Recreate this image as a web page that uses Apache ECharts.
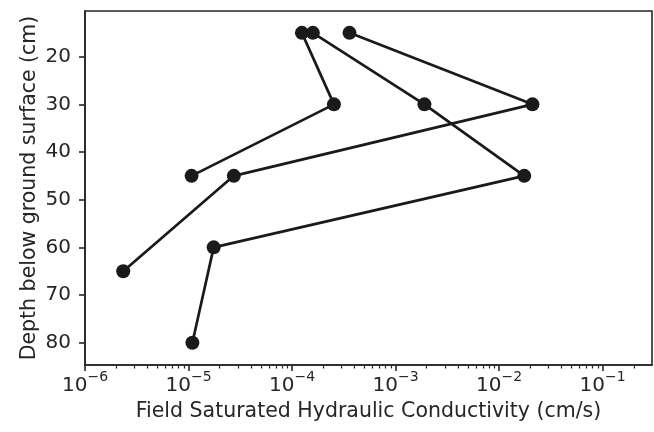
<!DOCTYPE html>
<html>
<head>
<meta charset="utf-8">
<script src="https://cdn.jsdelivr.net/npm/echarts@6/dist/echarts.min.js"></script>
<style>
html,body{margin:0;padding:0;background:#fff;}
#chart{width:654px;height:432px;}
</style>
</head>
<body>
<div id="chart"></div>
<script>
// Data (x: cm/s, y: depth cm)
const seriesA_K = [3.59e-4, 2.10e-2, 2.74e-5, 2.34e-6];
const seriesA_depth = [15, 30, 45, 65];
const seriesB_K = [1.245e-4, 2.54e-4, 1.07e-5];
const seriesB_depth = [15, 30, 45];
const seriesC_K = [1.59e-4, 1.90e-3, 1.75e-2, 1.75e-5, 1.09e-5];
const seriesC_depth = [15, 30, 45, 60, 80];

const xMajorTicks = [1e-6, 1e-5, 1e-4, 1e-3, 1e-2, 1e-1];
const xTickExponents = ['−6', '−5', '−4', '−3', '−2', '−1'];
const yTicks = [20, 30, 40, 50, 60, 70, 80];
const xMinorMultipliers = [2, 3, 4, 5, 6, 7, 8, 9];

const xMin = 1e-6, xMax = 0.3;
const yMin = 10.42, yMax = 84.68;

const xMinorTicks = [];
xMajorTicks.forEach(function (d) {
  xMinorMultipliers.forEach(function (m) {
    const v = m * d;
    if (v < xMax) xMinorTicks.push(v);
  });
});

function pairs(xs, ys) { return xs.map(function (x, i) { return [x, ys[i]]; }); }

const ink = '#262626';
const lineColor = '#1a1a1a';
const font = 'DejaVu Sans';

function mkSeries(xs, ys) {
  return {
    type: 'line',
    data: pairs(xs, ys),
    symbol: 'circle',
    symbolSize: 14,
    showSymbol: true,
    lineStyle: { color: lineColor, width: 2.7 },
    itemStyle: { color: lineColor, borderWidth: 0 },
    emphasis: { disabled: true },
    animation: false
  };
}

const chart = echarts.init(document.getElementById('chart'), null, { renderer: 'canvas' });
chart.setOption({
  animation: false,
  backgroundColor: '#fff',
  grid: { left: 85, right: 2, top: 11, bottom: 67, show: true, borderColor: ink, borderWidth: 1.6, backgroundColor: 'transparent' },
  xAxis: [{
    type: 'log', logBase: 10, min: xMin, max: xMax,
    name: 'Field Saturated Hydraulic Conductivity (cm/s)',
    nameLocation: 'middle', nameGap: 36, nameMoveOverlap: false,
    nameTextStyle: { fontFamily: font, fontSize: 20.5, color: ink },
    axisLine: { show: true, lineStyle: { color: ink, width: 1.6 } },
    axisTick: { show: true, customValues: xMajorTicks, length: 6, lineStyle: { color: ink, width: 1.6 } },
    axisLabel: {
      show: true, customValues: xMajorTicks, margin: 5,
      formatter: function (v) {
        const e = Math.round(Math.log10(v));
        const idx = xMajorTicks.findIndex(function (t) { return Math.abs(Math.log10(t) - e) < 1e-6; });
        return idx >= 0 ? '{b|10}{s|' + xTickExponents[idx] + '}' : '';
      },
      rich: {
        b: { fontFamily: font, fontSize: 20, color: ink, verticalAlign: 'bottom', lineHeight: 26 },
        s: { fontFamily: font, fontSize: 14, color: ink, verticalAlign: 'top', lineHeight: 26 }
      }
    },
    splitLine: { show: false }
  }, {
    type: 'log', logBase: 10, min: xMin, max: xMax, position: 'bottom',
    axisLine: { show: false },
    axisTick: { show: true, customValues: xMinorTicks, length: 3.5, lineStyle: { color: ink, width: 1.2 } },
    axisLabel: { show: false },
    splitLine: { show: false }
  }],
  yAxis: {
    type: 'value', inverse: true, min: yMin, max: yMax,
    name: 'Depth below ground surface (cm)',
    nameLocation: 'middle', nameGap: 45, nameMoveOverlap: false,
    nameTextStyle: { fontFamily: font, fontSize: 20.5, color: ink },
    axisLine: { show: true, lineStyle: { color: ink, width: 1.6 } },
    axisTick: { show: true, customValues: yTicks, length: 6, lineStyle: { color: ink, width: 1.6 } },
    axisLabel: { customValues: yTicks, margin: 14, fontFamily: font, fontSize: 20, color: ink },
    splitLine: { show: false }
  },
  series: [
    mkSeries(seriesA_K, seriesA_depth),
    mkSeries(seriesB_K, seriesB_depth),
    mkSeries(seriesC_K, seriesC_depth)
  ]
});
</script>
</body>
</html>
